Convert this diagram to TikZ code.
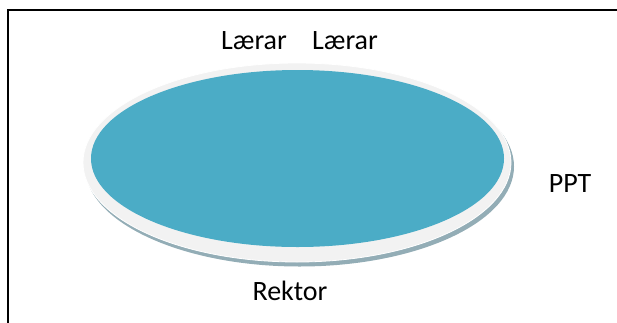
\documentclass[tikz,border=0pt]{standalone}
\usepackage{fontspec}
\setmainfont{Carlito}
\begin{document}
\begin{tikzpicture}[x=1pt,y=-1pt,
  label text/.style={font=\fontsize{28}{32}\selectfont, anchor=base, inner sep=0pt},
  frame line/.style={line width=1.8pt, black}]
\useasboundingbox (0,0) rectangle (617,322);
% open frame: left and top edges
\coordinate (fb) at (8,323);
\coordinate (fc) at (8,10);
\coordinate (fr) at (618,10);
\draw[frame line] (fb) -- (fc) -- (fr);
% disc: shadow, light rim, teal face
\fill[fill={rgb,255:red,147;green,173;blue,182}] (299.5,166.5) ellipse [x radius=214.5, y radius=100];
\filldraw[fill={rgb,255:red,242;green,242;blue,242}, draw=white, line width=0.8pt] (297,162.5) ellipse [x radius=214, y radius=99.5];
\fill[fill={rgb,255:red,75;green,172;blue,198}] (297.5,158.5) ellipse [x radius=206.5, y radius=88.5];
% labels
\node[label text] (l1) at (254,49) {Lærar};
\node[label text] (l2) at (345,49) {Lærar};
\node[label text] (ppt) at (570,192) {PPT};
\node[label text] (rek) at (290,300) {Rektor};
\end{tikzpicture}
\end{document}
